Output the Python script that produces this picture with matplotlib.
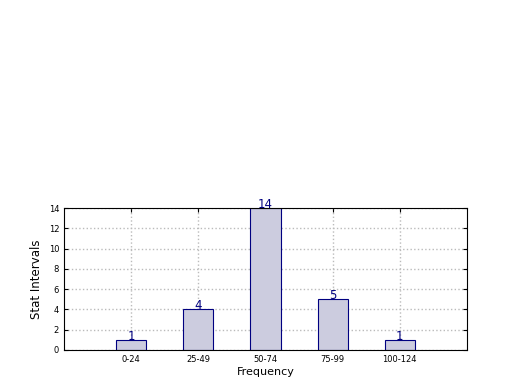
import matplotlib
matplotlib.use("Agg")
import matplotlib.pyplot as plt

categories = ["0-24", "25-49", "50-74", "75-99", "100-124"]
counts = [1, 4, 14, 5, 1]

fig = plt.figure(figsize=(5.2, 3.9), dpi=100)
ax = fig.add_axes([0.123, 0.1026, 0.775, 0.364])
pos = list(range(1, len(categories) + 1))
bars = ax.bar(pos, counts, width=0.45, color="#ccccdf", edgecolor="navy", linewidth=0.8, zorder=2)
for p, c in zip(pos, counts):
    ax.text(p, c, str(c), ha="center", va="baseline", color="navy", fontsize=8.5, zorder=3)
ax.set_xlim(0, 6)
ax.set_ylim(0, 14)
ax.set_yticks(range(0, 15, 2))
ax.set_xticks(pos)
ax.set_xticklabels(categories)
ax.tick_params(axis="both", labelsize=6, direction="in", top=True, right=True, length=3)
ax.grid(True, linestyle=":", color="#bbbbbb", linewidth=1, zorder=0)
ax.set_axisbelow(True)
ax.set_xlabel("Frequency", fontsize=8, labelpad=2)
ax.set_ylabel("Stat Intervals", fontsize=8.5)
for s in ax.spines.values():
    s.set_linewidth(0.8)
fig.savefig("out.png", dpi=100)
